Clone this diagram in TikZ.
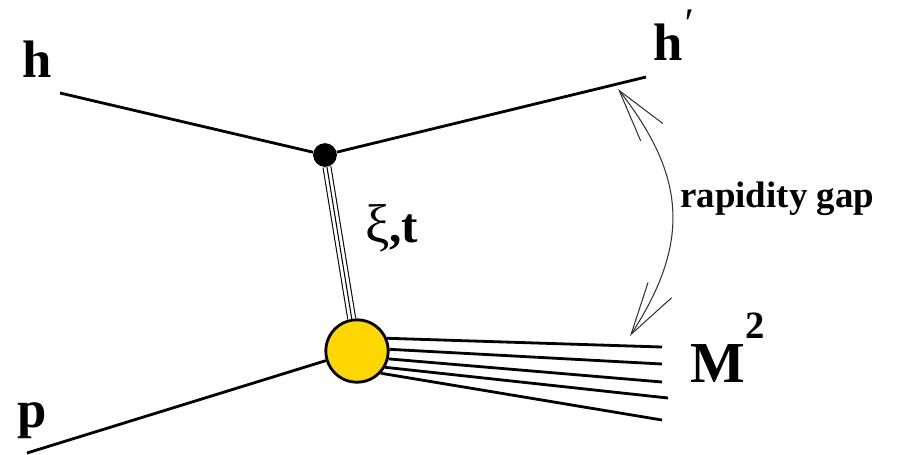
\documentclass[tikz,border=0pt]{standalone}
\usepackage{fontspec}
\setmainfont{Liberation Serif}
\usepackage{tikz}
\usetikzlibrary{arrows.meta, positioning, shapes.geometric}
\definecolor{blobyellow}{HTML}{FFD700}
\definecolor{gapgray}{HTML}{333333}

\begin{document}
\begin{tikzpicture}[
    x=0.02cm, y=0.02cm,
    leg/.style={line width=1.6pt},
    lbl/.style={font=\fontsize{30}{32}\selectfont\bfseries, inner sep=0pt, anchor=base west},
    vertex/.style={circle, fill=black, inner sep=0pt, minimum size=13.5pt},
    blob/.style={circle, draw, line width=1.6pt, fill=blobyellow, inner sep=0pt, minimum size=35.5pt},
    pomeron/.style={double, double distance=3.9pt, line width=0.6pt},
    gaparrow/.style={{Straight Barb[length=30pt, width=16pt, line width=0.6pt]}-{Straight Barb[length=30pt, width=16pt, line width=0.6pt]}, line width=0.6pt, gapgray},
]
    \useasboundingbox (0,0) rectangle (898,-454);

    % Vertices
    \node[vertex] (top) at (325,-155) {};
    \node[blob] (mx) at (357,-351) {};

    % External legs
    \coordinate (hin) at (60,-93);
    \coordinate (hout) at (646,-77);
    \coordinate (pin) at (27,-453);
    \draw[leg] (hin) -- (top);
    \draw[leg] (top) -- (hout);
    \draw[leg] (pin) -- (mx);

    % Exchange
    \draw[pomeron] (top) -- (mx);
    \draw[line width=0.6pt] (top) -- (mx);

    % Diffractive system
    \coordinate (x1) at (662,-347);
    \coordinate (x2) at (662,-364);
    \coordinate (x3) at (662,-382);
    \coordinate (x4) at (668,-398);
    \coordinate (x5) at (662,-420);
    \draw[leg] (mx.23) -- (x1);
    \draw[leg] (mx.3) -- (x2);
    \draw[leg] (mx.-14) -- (x3);
    \draw[leg] (mx.-30) -- (x4);
    \draw[leg] (mx.-43) -- (x5);

    % Rapidity gap
    \coordinate (gaptop) at (618,-89);
    \coordinate (gapbot) at (630,-336);
    \draw[gaparrow] (gaptop) to[out=-52, in=57, looseness=1.15] (gapbot);
    \node[lbl, font=\fontsize{21}{23}\selectfont\bfseries] (gaplbl) at (680,-207) {rapidity gap};

    % Labels
    \node[lbl] (hlbl) at (22,-77) {h};
    \node[lbl] (hplbl) at (653,-60) {h\raisebox{13pt}{\mdseries\fontsize{24}{24}\selectfont\itshape\char"2032}};
    \node[lbl] (plbl) at (17,-427) {p};
    \node[lbl, font=\fontsize{28}{30}\selectfont\bfseries] (xtlbl) at (365,-242) {{\mdseries\fontsize{31}{33}\selectfont ξ},t};
    \node[lbl, font=\fontsize{33}{35}\selectfont\bfseries] (mlbl) at (690,-382) {M\raisebox{25pt}{\fontsize{22}{24}\selectfont 2}};
\end{tikzpicture}
\end{document}
